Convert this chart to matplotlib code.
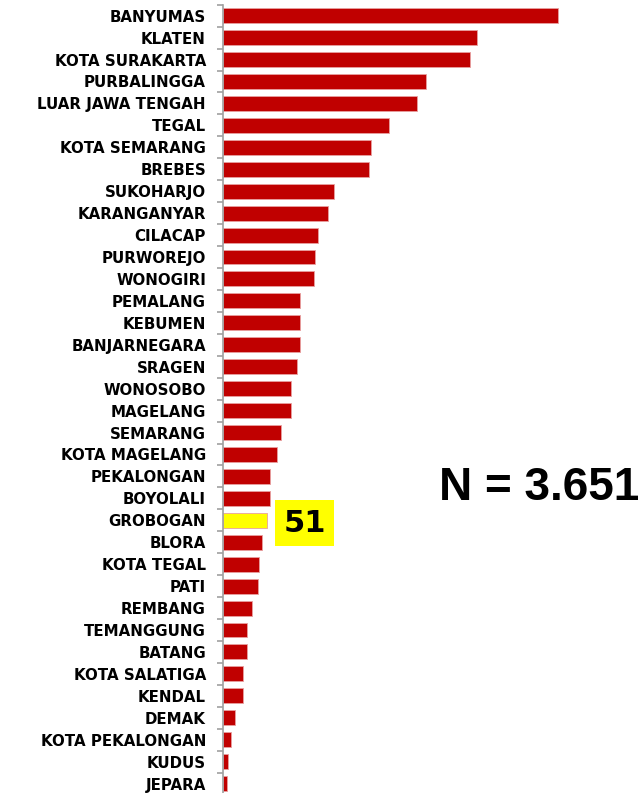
import matplotlib
matplotlib.use("Agg")
import matplotlib.pyplot as plt
import numpy as np

categories = ["BANYUMAS", "KLATEN", "KOTA SURAKARTA", "PURBALINGGA", "LUAR JAWA TENGAH",
              "TEGAL", "KOTA SEMARANG", "BREBES", "SUKOHARJO", "KARANGANYAR", "CILACAP",
              "PURWOREJO", "WONOGIRI", "PEMALANG", "KEBUMEN", "BANJARNEGARA", "SRAGEN",
              "WONOSOBO", "MAGELANG", "SEMARANG", "KOTA MAGELANG", "PEKALONGAN", "BOYOLALI",
              "GROBOGAN", "BLORA", "KOTA TEGAL", "PATI", "REMBANG", "TEMANGGUNG", "BATANG",
              "KOTA SALATIGA", "KENDAL", "DEMAK", "KOTA PEKALONGAN", "KUDUS", "JEPARA"]
values = [390, 296, 288, 236, 226, 193, 172, 170, 129, 122, 110, 107, 106, 90, 90, 90, 86,
          79, 79, 67, 63, 54, 54, 51, 45, 42, 41, 33, 28, 28, 23, 23, 14, 9, 6, 4]
highlight = "GROBOGAN"
total_label = "N = 3.651"

W, H = 640, 793
fig = plt.figure(figsize=(W / 100, H / 100), dpi=100)
top = 1 - 4.7 / H
bottom = 1 - (4.7 + 36 * 21.94) / H
left = 223.3 / W
ax = fig.add_axes([left, bottom, 1 - left, top - bottom])

n = len(categories)
y = np.arange(n)
colors = ["#FFFF00" if c == highlight else "#C00000" for c in categories]
ax.barh(y, values, height=0.68, color=colors, edgecolor="#E8A0A0", linewidth=0.6, zorder=2)

ax.set_ylim(n - 0.5, -0.5)
ax.set_xlim(0, 486)

for s in ["top", "right", "bottom"]:
    ax.spines[s].set_visible(False)
ax.spines["left"].set_color("#A0A0A0")
ax.spines["left"].set_linewidth(1.2)
ax.set_xticks([])

ax.set_yticks(y)
ax.set_yticklabels(categories, fontsize=10.8, fontweight="bold", family="DejaVu Sans")
ax.tick_params(axis="y", which="major", length=0, pad=12.5)
ax.set_yticks(np.arange(-0.5, n, 1), minor=True)
ax.tick_params(axis="y", which="minor", length=4.5, color="#A0A0A0", width=1.2)

hi = categories.index(highlight)
ax.annotate(str(values[hi]), xy=(values[hi], hi), xytext=(27, -2), textcoords="offset points",
            ha="center", va="center", fontsize=22, fontweight="bold", family="DejaVu Sans",
            bbox=dict(boxstyle="square,pad=0.28", fc="#FFFF00", ec="none"))

fig.text(439 / W, 1 - 488 / H, total_label, ha="left", va="center", fontsize=33,
         fontweight="bold", family="Liberation Sans")

fig.savefig("out.png", dpi=100)
